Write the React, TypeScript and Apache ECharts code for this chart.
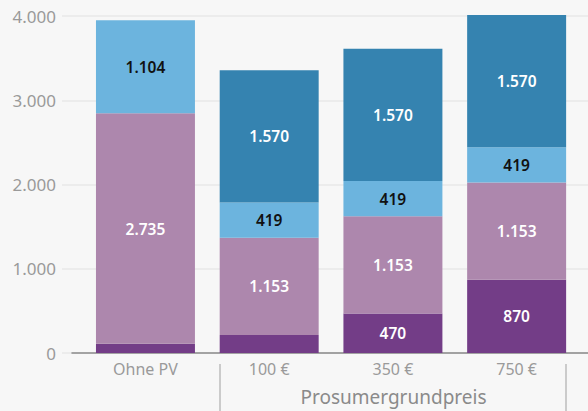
import React, { useEffect, useRef } from "react";
import * as echarts from "echarts";

const categories = ["Ohne PV", "100 €", "350 €", "750 €"];
const seriesBase = [110, 215, 470, 870];
const seriesPink = [2735, 1153, 1153, 1153];
const seriesLightBlue = [1104, 419, 419, 419];
const seriesDarkBlue = [0, 1570, 1570, 1570];
const yTicks = [0, 1000, 2000, 3000, 4000];
const groupLabel = "Prosumergrundpreis";
const hiddenLabels = [true, true, false, false];

const fmt = (v: number) => String(Math.round(v)).replace(/\B(?=(\d{3})+(?!\d))/g, ".");

export default function App() {
  const ref = useRef<HTMLDivElement>(null);
  useEffect(() => {
    if (!ref.current) return;
    const chart = echarts.init(ref.current, null, { renderer: "svg" });
    const font = "Noto Sans";
    const labelBase = {
      show: true,
      position: "inside",
      fontFamily: font,
      fontSize: 15.5,
      fontWeight: 600,
      formatter: (p: any) => fmt(p.value),
    };
    const mk = (name: string, vals: number[], color: string, labelColor: string, hide?: boolean[]) => ({
      name,
      type: "bar",
      stack: "total",
      xAxisIndex: 2,
      yAxisIndex: 2,
      barCategoryGap: "20%",
      clip: false,
      itemStyle: { color },
      label: { ...labelBase, color: labelColor },
      data: vals.map((v, i) =>
        v === 0 ? { value: v, label: { show: false } } : hide && hide[i] ? { value: v, label: { show: false } } : v
      ),
    });
    const yMax = yTicks[yTicks.length - 1];
    chart.setOption({
      animation: false,
      backgroundColor: "#f7f7f7",
      grid: [
        { left: 62, right: 0, top: 16, bottom: 58 },
        { left: 72, right: 0, top: 16, bottom: 58 },
        { left: 83.6, right: 9.5, top: 16, bottom: 58 },
      ],
      xAxis: [
        { type: "value", gridIndex: 0, show: false },
        {
          type: "value",
          gridIndex: 1,
          axisLine: { show: true, onZero: false, lineStyle: { color: "#8a8a8a", width: 1.5 } },
          axisTick: { show: false },
          axisLabel: { show: false },
          splitLine: { show: false },
        },
        {
          type: "category",
          gridIndex: 2,
          data: categories,
          axisLine: { show: false },
          axisTick: { show: false },
          axisLabel: { color: "#9a9a9a", fontFamily: font, fontSize: 16, margin: 8 },
        },
      ],
      yAxis: [
        {
          type: "value",
          gridIndex: 0,
          min: 0,
          max: yMax,
          interval: 1000,
          axisLine: { show: false },
          axisTick: { show: false },
          axisLabel: { color: "#9a9a9a", fontFamily: font, fontSize: 17, margin: 6, formatter: (v: number) => fmt(v) },
          splitLine: { lineStyle: { color: "#e8e8e8", width: 1.5 } },
        },
        { type: "value", gridIndex: 1, min: 0, max: yMax, show: false },
        { type: "value", gridIndex: 2, min: 0, max: yMax, interval: 1000, show: false },
      ],
      series: [
        mk("a", seriesBase, "#733d87", "#ffffff", hiddenLabels),
        mk("b", seriesPink, "#ad87ad", "#ffffff"),
        mk("c", seriesLightBlue, "#6cb4de", "#111111"),
        mk("d", seriesDarkBlue, "#3583b0", "#ffffff"),
      ],
      graphic: [
        { type: "line", shape: { x1: 220, y1: 364, x2: 220, y2: 411 }, style: { stroke: "#bdbdbd", lineWidth: 1.5 } },
        { type: "line", shape: { x1: 566, y1: 364, x2: 566, y2: 411 }, style: { stroke: "#bdbdbd", lineWidth: 1.5 } },
        {
          type: "text",
          x: 393.5,
          y: 397,
          style: {
            text: groupLabel,
            fill: "#8a8a8a",
            font: `19px "${font}"`,
            textAlign: "center",
            textVerticalAlign: "middle",
          },
        },
      ],
    });
    return () => chart.dispose();
  }, []);
  return <div ref={ref} style={{ width: 588, height: 411, position: "absolute", left: 0, top: 0 }} />;
}
